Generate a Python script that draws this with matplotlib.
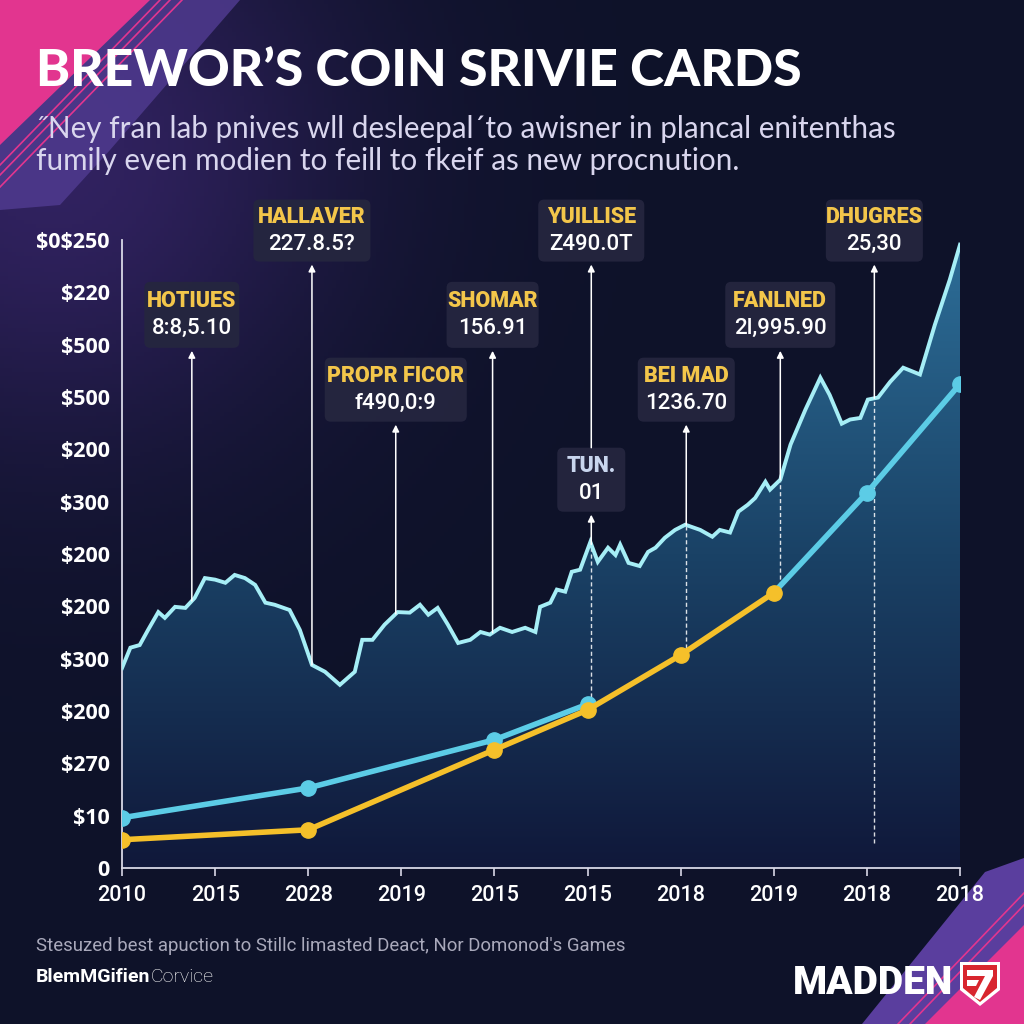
import numpy as np
import matplotlib
matplotlib.use("Agg")
import matplotlib.pyplot as plt
from matplotlib.colors import LinearSegmentedColormap
from matplotlib.patches import Polygon, FancyBboxPatch

plt.rcParams["text.parse_math"] = False  # labels contain literal "$"

# ---- data ----
x_labels = ["2010", "2015", "2028", "2019", "2015", "2015", "2018", "2019", "2018", "2018"]
y_labels = ["0", "$10", "$270", "$200", "$300", "$200", "$200", "$300",
            "$200", "$500", "$500", "$220", "$0$250"]

# jagged price area (x = tick index, y = tick index)
area_x = [0.00, 0.09, 0.19, 0.28, 0.39, 0.46, 0.57, 0.68, 0.78, 0.89, 1.00, 1.11, 1.21,
          1.32, 1.43, 1.54, 1.64, 1.80, 1.91, 2.04, 2.18, 2.34, 2.50, 2.58, 2.69, 2.82,
          2.96, 3.09, 3.20, 3.29, 3.39, 3.50, 3.61, 3.74, 3.85, 3.95, 4.06, 4.19, 4.33,
          4.44, 4.49, 4.60, 4.67, 4.76, 4.83, 4.92, 5.03, 5.11, 5.22, 5.30, 5.35, 5.44,
          5.56, 5.65, 5.73, 5.83, 5.94, 6.05, 6.21, 6.34, 6.42, 6.53, 6.62, 6.72, 6.80,
          6.91, 6.96, 7.07, 7.18, 7.34, 7.50, 7.60, 7.73, 7.82, 7.93, 8.01, 8.12, 8.25,
          8.39, 8.57, 8.73, 8.89, 9.00]
area_y = [3.82, 4.21, 4.26, 4.55, 4.89, 4.78, 4.99, 4.97, 5.16, 5.54, 5.51, 5.45, 5.60,
          5.54, 5.41, 5.07, 5.03, 4.93, 4.55, 3.88, 3.75, 3.50, 3.75, 4.36, 4.36, 4.65,
          4.89, 4.88, 5.03, 4.84, 4.97, 4.65, 4.30, 4.36, 4.51, 4.46, 4.59, 4.51, 4.59,
          4.51, 4.99, 5.07, 5.32, 5.28, 5.66, 5.70, 6.23, 5.85, 6.12, 5.98, 6.18, 5.83,
          5.77, 6.04, 6.12, 6.31, 6.46, 6.56, 6.46, 6.33, 6.46, 6.41, 6.81, 6.94, 7.07,
          7.38, 7.23, 7.42, 8.09, 8.76, 9.37, 9.04, 8.49, 8.57, 8.60, 8.95, 8.99, 9.29,
          9.56, 9.43, 10.38, 11.24, 11.91]

yellow_x = [0, 2, 4, 5, 6, 7]
yellow_y = [0.54, 0.73, 2.26, 3.02, 4.07, 5.26]
cyan_x = [0, 2, 4, 5]
cyan_y = [0.96, 1.53, 2.45, 3.13]
cyan2_x = [7, 8, 9]
cyan2_y = [5.26, 7.17, 9.25]

# callouts: title, value, x, box centre y, box width px, box height px
callouts = [
    ("HOTIUES", "8:8,5.10", 0.75, 10.57, 95, 66),
    ("HALLAVER", "227.8.5?", 2.04, 12.18, 117, 62),
    ("PROPR FICOR", "f490,0:9", 2.94, 9.14, 142, 64),
    ("SHOMAR", "156.91", 3.98, 10.57, 92, 66),
    ("YUILLISE", "Z490.0T", 5.04, 12.18, 106, 62),
    ("TUN.", "01", 5.04, 7.42, 68, 64),
    ("BEI MAD", "1236.70", 6.06, 9.14, 97, 64),
    ("FANLNED", "2l,995.90", 7.07, 10.57, 110, 66),
    ("DHUGRES", "25,30", 8.08, 12.18, 97, 62),
]
# dashed drop lines: x, bottom y
drops = [(5.04, 3.13), (6.06, 4.07), (7.07, 5.26), (8.08, 0.48)]

BG = "#0e1229"
GOLD = "#f3c64a"

fig = plt.figure(figsize=(10.24, 10.24), dpi=100, facecolor=BG)

# background with glow + stripes (pixel coords, y down)
bg = fig.add_axes([0, 0, 1, 1], zorder=-10)
bg.set_xlim(0, 1024)
bg.set_ylim(1024, 0)
bg.axis("off")
yy, xx = np.mgrid[0:256, 0:256] / 255.0
glow = np.exp(-((xx - 0.05) ** 2 + (yy - 0.15) ** 2) / 0.08)
base = np.array([0x0e, 0x12, 0x29]) / 255.0
purple = np.array([0x3a, 0x26, 0x6e]) / 255.0
img = base + (purple - base) * glow[..., None] * 0.8
bg.imshow(img, extent=[0, 1024, 1024, 0], aspect="auto", zorder=0)
bg.add_patch(Polygon([(0, 0), (240, 0), (110, 150), (60, 205), (0, 210)],
                     closed=True, color="#4f3a8f", alpha=0.85, lw=0, zorder=1))
bg.add_patch(Polygon([(0, 0), (150, 0), (0, 145)], closed=True,
                     color="#e2358f", lw=0, zorder=2))
for off in (0, 10, 22):
    bg.plot([160 + off, 0], [0, 165 + off], color="#e2358f", lw=1.2, zorder=2)
bg.add_patch(Polygon([(985, 872), (1024, 858), (1024, 1024), (862, 1024)],
                     closed=True, color="#5a3e9e", lw=0, zorder=1))
bg.add_patch(Polygon([(1024, 925), (1024, 1024), (925, 1024)], closed=True,
                     color="#e2358f", lw=0, zorder=2))
for off in (0, 12):
    bg.plot([1024, 910 - off], [905 - off, 1024], color="#e2358f", lw=1.2, zorder=2)

# main chart
ax = fig.add_axes([122 / 1024, 1 - 868 / 1024, (960 - 122) / 1024, (868 - 240) / 1024])
ax.set_facecolor("none")
ax.set_xlim(0, 9)
ax.set_ylim(0, 12)

cmap = LinearSegmentedColormap.from_list("area", ["#10183a", "#1a4266", "#2d6e98"])
grad = ax.imshow(np.linspace(0, 1, 256).reshape(-1, 1), extent=[0, 9, 0, 12],
                 origin="lower", aspect="auto", cmap=cmap, zorder=1)
poly = Polygon(list(zip(area_x, area_y)) + [(9, 0), (0, 0)], closed=True,
               facecolor="none", edgecolor="none", transform=ax.transData)
ax.add_patch(poly)
grad.set_clip_path(poly)
ax.plot(area_x, area_y, color="#a6eef6", lw=2.8, zorder=3, solid_joinstyle="miter")

for x, ybot in drops:
    ytop = np.interp(x, area_x, area_y)
    ax.plot([x, x], [ybot, ytop], color="white", lw=1, ls=(0, (3, 2)), alpha=0.85, zorder=2)

ax.plot(yellow_x, yellow_y, color="#f5c02a", lw=4, marker="o", ms=11, zorder=5)
ax.plot(cyan_x, cyan_y, color="#5ccce6", lw=4, marker="o", ms=11, zorder=4)
ax.plot(cyan2_x, cyan2_y, color="#5ccce6", lw=4, zorder=4)
ax.plot(cyan2_x[1:], cyan2_y[1:], color="#5ccce6", lw=0, marker="o", ms=11, zorder=4)

for s in ("top", "right"):
    ax.spines[s].set_visible(False)
for s in ("left", "bottom"):
    ax.spines[s].set_color("#d8d8e6")
    ax.spines[s].set_linewidth(1.3)
ax.set_xticks(range(len(x_labels)))
ax.set_xticklabels(x_labels, fontsize=15.5, color="white", family="Roboto", weight="medium")
ax.set_yticks(range(len(y_labels)))
ax.set_yticklabels(y_labels, fontsize=15.5, color="white", family="Open Sans", weight="bold")
ax.tick_params(axis="x", colors="#d8d8e6", length=6, width=1.2, pad=6, labelcolor="white")
ax.tick_params(axis="y", length=0, pad=9, labelcolor="white")

# overlay in display pixels (y up) for callouts
ov = fig.add_axes([0, 0, 1, 1], zorder=5)
ov.set_xlim(0, 1024)
ov.set_ylim(0, 1024)
ov.axis("off")
ov.set_facecolor("none")

boxes = {}
for title, value, x, yb, w, h in callouts:
    cx, cy = ax.transData.transform((x, yb))
    ov.add_patch(FancyBboxPatch((cx - w / 2, cy - h / 2), w, h,
                                boxstyle="round,pad=0,rounding_size=6",
                                facecolor="#25263f", edgecolor="none", alpha=0.95))
    tcol = "#c9d6ee" if title == "TUN." else GOLD
    ov.text(cx, cy + 14, title, ha="center", va="center", color=tcol, fontsize=15.5,
            family="Roboto", weight="black")
    ov.text(cx, cy - 14, value, ha="center", va="center", color="white", fontsize=16,
            family="Roboto", weight="medium")
    boxes[title] = (cx, cy, w, h)

for title, value, x, yb, w, h in callouts:
    cx, cy, w, h = boxes[title]
    if title == "YUILLISE":
        _, ty, _, th = boxes["TUN."]
        start_y = ty + th / 2
    else:
        start_y = ax.transData.transform((x, np.interp(x, area_x, area_y)))[1]
    ov.annotate("", xy=(cx, cy - h / 2 - 3), xytext=(cx, start_y),
                arrowprops=dict(arrowstyle="-|>", color="white", lw=1.1,
                                mutation_scale=10, shrinkA=0, shrinkB=0))

# titles
fig.text(36 / 1024, 1 - 72 / 1024, "BREWOR\u2019S COIN SRIVIE CARDS", color="white",
         fontsize=37.2, family="Lato", weight="black", va="center")
fig.text(36 / 1024, 1 - 129 / 1024,
         "\u02ddNey fran lab pnives wll desleepal\u00b4to awisner in plancal enitenthas",
         color="#d9d6ee", fontsize=21.3, family="Lato", va="center")
fig.text(36 / 1024, 1 - 161 / 1024,
         "fumily even modien to feill to fkeif as new procnution.",
         color="#d9d6ee", fontsize=21.3, family="Lato", va="center")

# footer
fig.text(36 / 1024, 1 - 946 / 1024,
         "Stesuzed best apuction to Stillc limasted Deact, Nor Domonod's Games",
         color="#a9a9bb", fontsize=13.4, family="Roboto", va="center")
t1 = fig.text(36 / 1024, 1 - 977 / 1024, "BlemMGifien", color="white", fontsize=14,
              family="Roboto", weight="bold", va="center")
r = fig.canvas.get_renderer()
ext = t1.get_window_extent(renderer=r)
fig.text(ext.x1 / 1024, 1 - 977 / 1024, "Corvice", color="white", fontsize=14,
         family="Roboto", weight="light", va="center")

# MADDEN logo
fig.text(793 / 1024, 1 - 984 / 1024, "MADDEN", color="white", fontsize=28,
         family="Roboto", weight="black", va="center")
shield = [(960, 962), (1000, 962), (1000, 990), (980, 1006), (960, 990)]
inner = [(963, 965), (997, 965), (997, 988), (980, 1002), (963, 988)]
ov.add_patch(Polygon([(px, 1024 - py) for px, py in shield], closed=True, color="white", lw=0))
ov.add_patch(Polygon([(px, 1024 - py) for px, py in inner], closed=True, color="#d8262e", lw=0))
seven = [(967, 970), (993, 970), (993, 976), (980, 1000), (974, 997), (985, 976), (967, 976)]
ov.add_patch(Polygon([(px, 1024 - py) for px, py in seven], closed=True, color="white", lw=0))
ov.add_patch(Polygon([(px, 1024 - py) for px, py in [(967, 980), (979, 980), (976, 986), (967, 986)]],
                     closed=True, color="white", lw=0))

fig.savefig("out.png", dpi=100, facecolor=BG)
